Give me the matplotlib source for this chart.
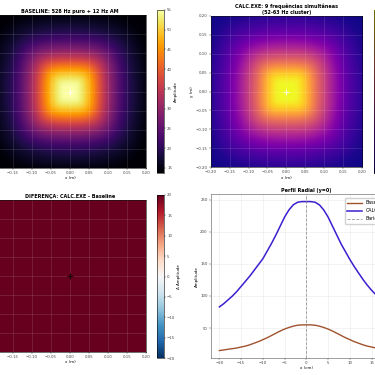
import numpy as np
import matplotlib
matplotlib.use('Agg')
import matplotlib.pyplot as plt

# perfil radial (y=0), x em cm
x_cm = np.arange(-20, 21, 1)
baseline = [15, 16, 17, 18, 19, 20.5, 22, 24, 26.5, 29, 32, 35, 38.5, 42, 45.5, 48.5,
            51, 53, 54.5, 55, 55, 55, 54.5, 53, 51, 48.5, 45.5, 42, 38.5, 35, 32, 29,
            26.5, 24, 22, 20.5, 19, 18, 17, 16, 15]
calc = [83, 88, 94, 100, 107, 115, 123, 131, 140, 149, 158, 170, 182, 195, 209, 223,
        234, 242, 246, 247, 247, 247, 246, 242, 234, 223, 209, 195, 181, 169, 157, 146,
        136, 126, 117, 109, 102, 96, 91, 86, 82]
# fundo (nivel nos cantos) de cada mapa
piso_baseline = 12.5
piso_calc = 59.0

titulos = ['BASELINE: 528 Hz puro + 12 Hz AM',
           'CALC.EXE: 9 frequências simultâneas\n(52-63 Hz cluster)',
           'DIFERENÇA: CALC.EXE - Baseline',
           'Perfil Radial (y=0)']

g = np.linspace(-20, 20, 161)
GX, GY = np.meshgrid(g, g)
R4 = (np.abs(GX) ** 5 + np.abs(GY) ** 5) ** 0.2

def mapa(perfil, piso):
    # campo 2D (contornos quase quadrados) montado a partir do perfil lido
    p = np.array(perfil) - piso
    a_sq = np.interp(R4, np.abs(x_cm[20:]), p[20:])
    ax_ = np.interp(GX, x_cm, p)
    ay_ = np.interp(GY, x_cm, p)
    a_pr = ax_ * ay_ / p.max()
    return piso + a_sq ** 0.75 * a_pr ** 0.25

Zb = mapa(baseline, piso_baseline)
Zc = mapa(calc, piso_calc)
Zd = Zc - Zb

fs_t, fs_tick, fs_lab = 3.5, 2.8, 2.9
plt.rcParams.update({'xtick.labelsize': fs_tick, 'ytick.labelsize': fs_tick,
                     'xtick.major.size': 1.2, 'ytick.major.size': 1.2,
                     'xtick.major.width': 0.3, 'ytick.major.width': 0.3,
                     'xtick.major.pad': 1, 'ytick.major.pad': 1,
                     'axes.linewidth': 0.4, 'xtick.color': '#444444',
                     'ytick.color': '#444444'})

fig = plt.figure(figsize=(3.75, 3.75), dpi=100)
ext = [-0.2, 0.2, -0.2, 0.2]

ax1 = fig.add_axes([-0.0179, 0.552, 0.409, 0.408])
cax1 = fig.add_axes([0.4187, 0.5387, 0.0187, 0.4347])
ax2 = fig.add_axes([0.5619, 0.552, 0.4035, 0.408])
cax2 = fig.add_axes([0.9973, 0.5387, 0.0187, 0.4347])
ax3 = fig.add_axes([-0.0179, 0.0613, 0.409, 0.405])
cax3 = fig.add_axes([0.4187, 0.0453, 0.0187, 0.4347])
ax4 = fig.add_axes([0.5619, 0.0453, 0.510, 0.437])

im1 = ax1.imshow(Zb, extent=ext, origin='lower', cmap='inferno', interpolation='bilinear')
im2 = ax2.imshow(Zc, extent=ext, origin='lower', cmap='plasma', interpolation='bilinear')
im3 = ax3.imshow(Zd, extent=ext, origin='lower', cmap='RdBu_r', vmin=-20, vmax=20,
                 interpolation='bilinear')

for ax, im, cax, t, lab, mc in [(ax1, im1, cax1, titulos[0], 'Amplitude', 'white'),
                                (ax2, im2, cax2, titulos[1], 'Amplitude', 'white'),
                                (ax3, im3, cax3, titulos[2], 'Δ Amplitude', 'black')]:
    ax.set_title(t, fontsize=fs_t, fontweight='bold', pad=1.5, linespacing=1.1)
    ax.set_xlabel('x (m)', fontsize=fs_lab, labelpad=1)
    ax.set_ylabel('y (m)', fontsize=fs_lab, labelpad=1)
    ax.plot(0, 0, '+', color=mc, ms=4, mew=0.8, alpha=0.8)
    ax.grid(True, color='white', alpha=0.2, lw=0.4)
    cb = fig.colorbar(im, cax=cax)
    cb.set_label(lab, fontsize=fs_lab, labelpad=1)
    cb.outline.set_linewidth(0.4)
    cb.ax.tick_params(labelsize=fs_tick, length=1.2, width=0.3, pad=1)

ax4.plot(x_cm, baseline, color='#a0522d', lw=1.0, label='Baseline')
ax4.plot(x_cm, calc, color='#3a1fd0', lw=1.1, label='CALC.EXE')
ax4.axvline(0, color='gray', ls='--', lw=0.6, alpha=0.8, label='Baricentro')
ax4.set_title(titulos[3], fontsize=fs_t, fontweight='bold', pad=1.5)
ax4.set_xlabel('x (cm)', fontsize=fs_lab, labelpad=1)
ax4.set_ylabel('Amplitude', fontsize=fs_lab, labelpad=1)
ax4.grid(True, alpha=0.25, lw=0.4)
for s in ax4.spines.values():
    s.set_color('#555555')
ax4.legend(loc='upper left', bbox_to_anchor=(0.69, 0.99), fontsize=3.4, frameon=True,
           framealpha=0.9, edgecolor='#cccccc', borderpad=0.5, handlelength=3.0,
           labelspacing=0.6)

plt.savefig('out.png', dpi=100)
